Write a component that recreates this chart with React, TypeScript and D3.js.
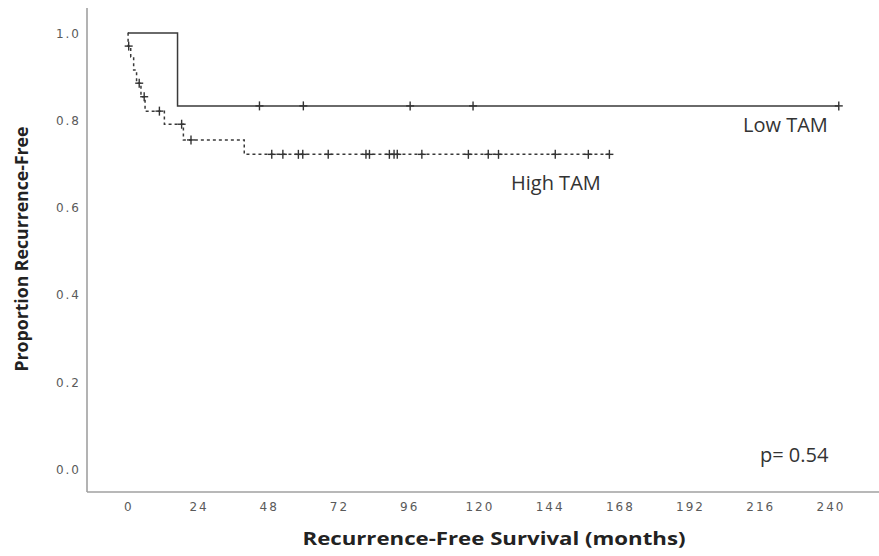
import React from "react";
import * as d3 from "d3";

const xTicks = [0, 24, 48, 72, 96, 120, 144, 168, 192, 216, 240];
const yTicks = [0.0, 0.2, 0.4, 0.6, 0.8, 1.0];

// Low TAM Kaplan-Meier steps
const lowTimes = [0, 17];
const lowSurv = [1.0, 0.833];
const lowEnd = 243;
const lowCensor = [45, 60, 96.5, 118, 243];

// High TAM Kaplan-Meier steps
const highTimes = [0, 0.1, 1, 2, 3, 4.5, 5.9, 12.5, 19, 39.8];
const highSurv = [1.0, 0.97, 0.945, 0.915, 0.885, 0.854, 0.821, 0.791, 0.755, 0.722];
const highEnd = 164.6;
const highCensor = [0.3, 3.9, 5.6, 10.8, 18.4, 21.6, 49.2, 53.0, 58.3, 59.8, 68.5, 81.4, 82.6, 89.4, 91.0, 92.1, 100.5, 116.4, 123.2, 126.7, 146.1, 157.4, 164.6];

const W = 879;
const H = 556;

const x = d3.scaleLinear().domain([0, 240]).range([127.8, 830]);
const y = d3.scaleLinear().domain([0, 1]).range([469.5, 33]);

function survAt(times: number[], surv: number[], t: number) {
  let s = surv[0];
  for (let i = 0; i < times.length; i++) if (times[i] <= t) s = surv[i];
  return s;
}

function stepPath(times: number[], surv: number[], end: number) {
  const pts: [number, number][] = times.map((t, i) => [t, surv[i]]);
  pts.push([end, surv[surv.length - 1]]);
  return d3
    .line<[number, number]>()
    .x((d) => x(d[0]))
    .y((d) => y(d[1]))
    .curve(d3.curveStepAfter)(pts) as string;
}

function Censors({ times, surv, list }: { times: number[]; surv: number[]; list: number[] }) {
  return (
    <g stroke="#333" strokeWidth={1.4}>
      {list.map((t, i) => {
        const cx = x(t);
        const cy = y(survAt(times, surv, t));
        return (
          <g key={i}>
            <line x1={cx} x2={cx} y1={cy - 4.5} y2={cy + 4.5} />
            <line x1={cx - 4} x2={cx + 4} y1={cy} y2={cy} />
          </g>
        );
      })}
    </g>
  );
}

export default function App() {
  const tickFont = { fontFamily: "DejaVu Sans", fontSize: 12, letterSpacing: 2, fill: "#5a5a5a" } as const;
  return (
    <svg width={W} height={H} style={{ position: "absolute", left: 0, top: 0, background: "#fff" }}>
      {/* axes */}
      <line x1={87} x2={87} y1={8} y2={492} stroke="#a0a0a0" strokeWidth={1.6} />
      <line x1={87} x2={879} y1={492} y2={492} stroke="#a0a0a0" strokeWidth={1.6} />
      {yTicks.map((v) => (
        <text key={v} x={81} y={y(v) + 4.5} textAnchor="end" {...tickFont}>
          {v.toFixed(1)}
        </text>
      ))}
      {xTicks.map((v) => (
        <text key={v} x={x(v) + 1} y={511} textAnchor="middle" {...tickFont}>
          {v}
        </text>
      ))}
      {/* curves */}
      <path d={stepPath(lowTimes, lowSurv, lowEnd)} fill="none" stroke="#3a3a3a" strokeWidth={1.5} />
      <path
        d={stepPath(highTimes, highSurv, highEnd)}
        fill="none"
        stroke="#3a3a3a"
        strokeWidth={1.5}
        strokeDasharray="3,3"
      />
      <Censors times={lowTimes} surv={lowSurv} list={lowCensor} />
      <Censors times={highTimes} surv={highSurv} list={highCensor} />
      {/* labels */}
      <text x={743} y={132} fontFamily="Open Sans" fontSize={20} fill="#333">
        Low TAM
      </text>
      <text x={511} y={190} fontFamily="Open Sans" fontSize={20} fill="#333">
        High TAM
      </text>
      <text x={760} y={462} fontFamily="Open Sans" fontSize={20} fill="#333">
        p= 0.54
      </text>
      <text
        x={494}
        y={545}
        textAnchor="middle"
        fontFamily="Open Sans"
        fontWeight="bold"
        fontSize={18}
        fill="#222"
        textLength={383}
        lengthAdjust="spacingAndGlyphs"
      >
        Recurrence-Free Survival (months)
      </text>
      <text
        transform="translate(28,249) rotate(-90)"
        textAnchor="middle"
        fontFamily="Open Sans"
        fontWeight="bold"
        fontSize={17}
        fill="#222"
        textLength={245}
        lengthAdjust="spacingAndGlyphs"
      >
        Proportion Recurrence-Free
      </text>
    </svg>
  );
}
